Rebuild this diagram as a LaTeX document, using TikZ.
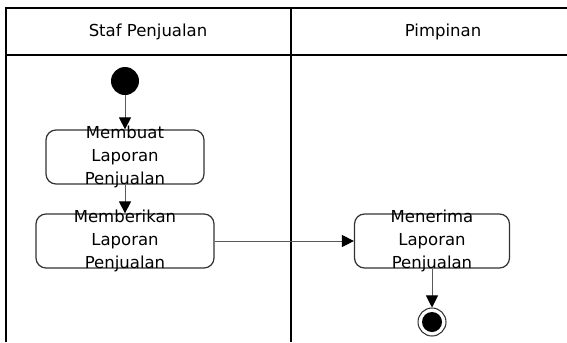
\documentclass[tikz,border=0pt]{standalone}
\usepackage{fontspec}
\setmainfont{DejaVu Sans}
\usetikzlibrary{arrows.meta}
\tikzset{
  lane/.style={line width=0.8pt},
  act/.style={draw=black!80,line width=0.7pt,rounded corners=0.2cm,minimum height=1.08cm,inner sep=0pt},
  acttxt/.style={align=center,inner sep=0pt,font=\fontsize{9.4}{13.1}\selectfont},
  flow/.style={draw=black!65,line width=0.5pt,-{Triangle[length=0.24cm,width=0.24cm,black]}},
}
\begin{document}
\begin{tikzpicture}[x=0.02cm,y=-0.02cm]
   \useasboundingbox (0,0) rectangle (567,342);
   % swimlanes
   \coordinate (tl) at (6,8);
   \draw[lane] (6,342)--(tl)--(567,8);
   \draw[lane] (291,8)--(291,342);
   \draw[lane] (6,55)--(567,55);
   \node[acttxt] (staf) at (148,32) {Staf Penjualan};
   \node[acttxt] (pimp) at (443,32) {Pimpinan};
   % activities
   \node[circle,fill=black,minimum size=0.56cm,inner sep=0pt] (start) at (125,81) {};
   \node[act,minimum width=3.16cm] (mbuat) at (125,157) {};
   \node[acttxt] at (mbuat) {Membuat\\Laporan\\Penjualan};
   \node[act,minimum width=3.56cm] (mberi) at (125,241) {};
   \node[acttxt] at (mberi) {Memberikan\\Laporan\\Penjualan};
   \node[act,minimum width=3.1cm] (mterima) at (432,241) {};
   \node[acttxt] at (mterima) {Menerima\\Laporan\\Penjualan};
   \node[circle,draw=black!80,line width=0.6pt,minimum size=0.56cm,inner sep=0pt] (stop) at (432,322) {};
   \fill (stop) circle (0.2cm);
   % flows
   \draw[flow] (start)--(mbuat);
   \draw[flow] (mbuat)--(mberi);
   \draw[flow] (mberi)--(mterima);
   \draw[flow] (mterima)--(stop);
\end{tikzpicture}
\end{document}
